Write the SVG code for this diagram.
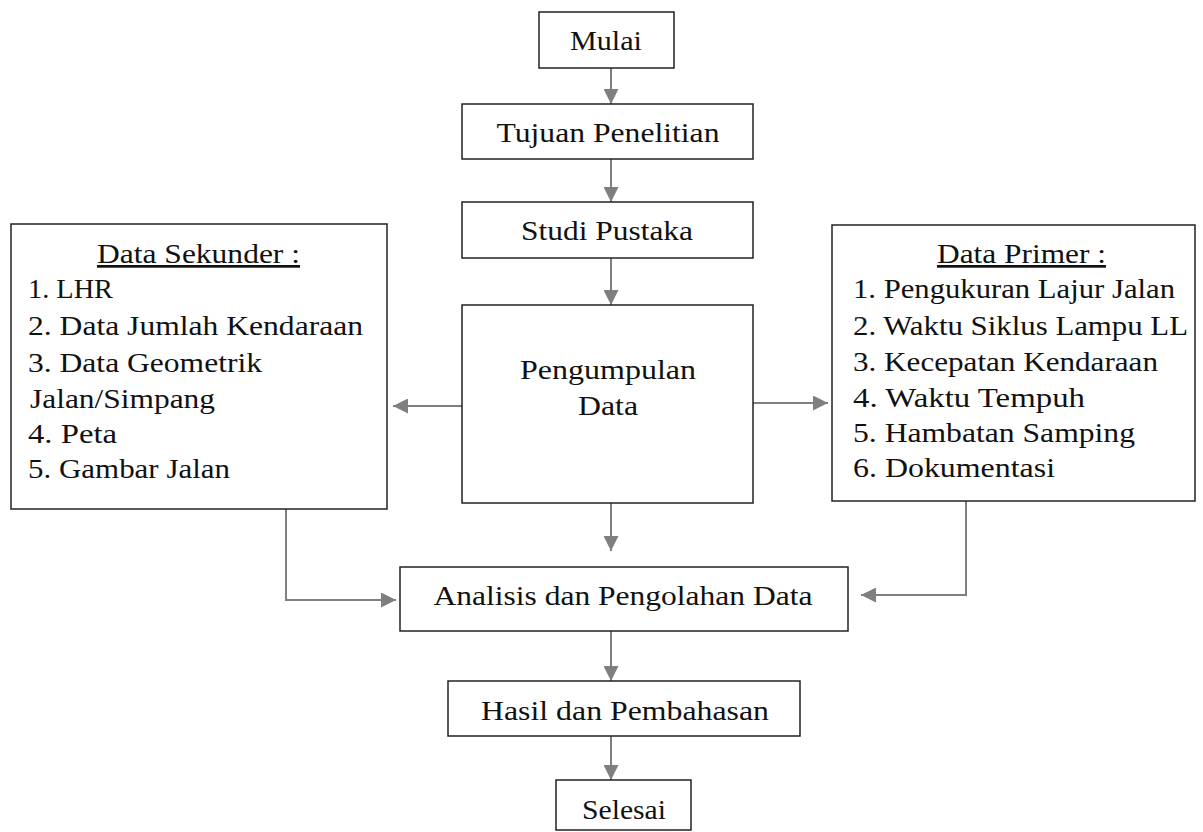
<svg xmlns="http://www.w3.org/2000/svg" width="1203" height="832" viewBox="0 0 1203 832">
<style>
.box{fill:#fff;stroke:#222;stroke-width:1.5}
.t{font-family:"Liberation Serif","DejaVu Serif",serif;font-size:27px;fill:#111}
.c{stroke:#7f7f7f;stroke-width:2;fill:none}
</style>
<defs>
<marker id="ah" viewBox="0 0 10 10" refX="10" refY="5" markerWidth="15" markerHeight="15" markerUnits="userSpaceOnUse" orient="auto">
<path d="M0,0 L10,5 L0,10 z" fill="#7f7f7f"/>
</marker>
</defs>
<rect width="1203" height="832" fill="#fff"/>
<g id="connectors">
<path class="c" d="M611,68 V104" marker-end="url(#ah)"/>
<path class="c" d="M611,159 V202" marker-end="url(#ah)"/>
<path class="c" d="M611,258 V305" marker-end="url(#ah)"/>
<path class="c" d="M462,406 H393" marker-end="url(#ah)"/>
<path class="c" d="M753,403 H828" marker-end="url(#ah)"/>
<path class="c" d="M611,503 V551" marker-end="url(#ah)"/>
<path class="c" d="M286,509 V600 H396" marker-end="url(#ah)"/>
<path class="c" d="M966,501 V595 H861" marker-end="url(#ah)"/>
<path class="c" d="M611,631 V681" marker-end="url(#ah)"/>
<path class="c" d="M611,736 V780" marker-end="url(#ah)"/>
</g>
<g id="mulai">
<rect class="box" x="539" y="12" width="135" height="56"/>
<text class="t" x="606" y="50" text-anchor="middle" textLength="72" lengthAdjust="spacingAndGlyphs">Mulai</text>
</g>
<g id="tujuan">
<rect class="box" x="462" y="104" width="291" height="55"/>
<text class="t" x="608" y="142" text-anchor="middle" textLength="223" lengthAdjust="spacingAndGlyphs">Tujuan Penelitian</text>
</g>
<g id="studi">
<rect class="box" x="462" y="202" width="291" height="56"/>
<text class="t" x="607" y="240" text-anchor="middle" textLength="172" lengthAdjust="spacingAndGlyphs">Studi Pustaka</text>
</g>
<g id="pengumpulan">
<rect class="box" x="462" y="305" width="291" height="198"/>
<text class="t" x="608" y="379" text-anchor="middle" textLength="176" lengthAdjust="spacingAndGlyphs">Pengumpulan</text>
<text class="t" x="608" y="415" text-anchor="middle" textLength="60" lengthAdjust="spacingAndGlyphs">Data</text>
</g>
<g id="sekunder">
<rect class="box" x="11" y="224" width="376" height="285"/>
<text class="t" x="97" y="263" textLength="203" lengthAdjust="spacingAndGlyphs" text-decoration="underline">Data Sekunder :</text>
<text class="t" x="28" y="298" textLength="85" lengthAdjust="spacingAndGlyphs">1. LHR</text>
<text class="t" x="28" y="335" textLength="335" lengthAdjust="spacingAndGlyphs">2. Data Jumlah Kendaraan</text>
<text class="t" x="28" y="372" textLength="234" lengthAdjust="spacingAndGlyphs">3. Data Geometrik</text>
<text class="t" x="30" y="408" textLength="185" lengthAdjust="spacingAndGlyphs">Jalan/Simpang</text>
<text class="t" x="28" y="443" textLength="89" lengthAdjust="spacingAndGlyphs">4. Peta</text>
<text class="t" x="28" y="478" textLength="202" lengthAdjust="spacingAndGlyphs">5. Gambar Jalan</text>
</g>
<g id="primer">
<rect class="box" x="832" y="225" width="363" height="276"/>
<text class="t" x="937" y="263" textLength="169" lengthAdjust="spacingAndGlyphs" text-decoration="underline">Data Primer :</text>
<text class="t" x="853" y="298" textLength="322" lengthAdjust="spacingAndGlyphs">1. Pengukuran Lajur Jalan</text>
<text class="t" x="853" y="335" textLength="335" lengthAdjust="spacingAndGlyphs">2. Waktu Siklus Lampu LL</text>
<text class="t" x="853" y="371" textLength="305" lengthAdjust="spacingAndGlyphs">3. Kecepatan Kendaraan</text>
<text class="t" x="853" y="407" textLength="232" lengthAdjust="spacingAndGlyphs">4. Waktu Tempuh</text>
<text class="t" x="853" y="442" textLength="282" lengthAdjust="spacingAndGlyphs">5. Hambatan Samping</text>
<text class="t" x="853" y="477" textLength="202" lengthAdjust="spacingAndGlyphs">6. Dokumentasi</text>
</g>
<g id="analisis">
<rect class="box" x="400" y="567" width="448" height="64"/>
<text class="t" x="623" y="605" text-anchor="middle" textLength="379" lengthAdjust="spacingAndGlyphs">Analisis dan Pengolahan Data</text>
</g>
<g id="hasil">
<rect class="box" x="448" y="681" width="352" height="55"/>
<text class="t" x="625" y="720" text-anchor="middle" textLength="288" lengthAdjust="spacingAndGlyphs">Hasil dan Pembahasan</text>
</g>
<g id="selesai">
<rect class="box" x="556" y="780" width="135" height="50"/>
<text class="t" x="624" y="819" text-anchor="middle" textLength="84" lengthAdjust="spacingAndGlyphs">Selesai</text>
</g>
</svg>
